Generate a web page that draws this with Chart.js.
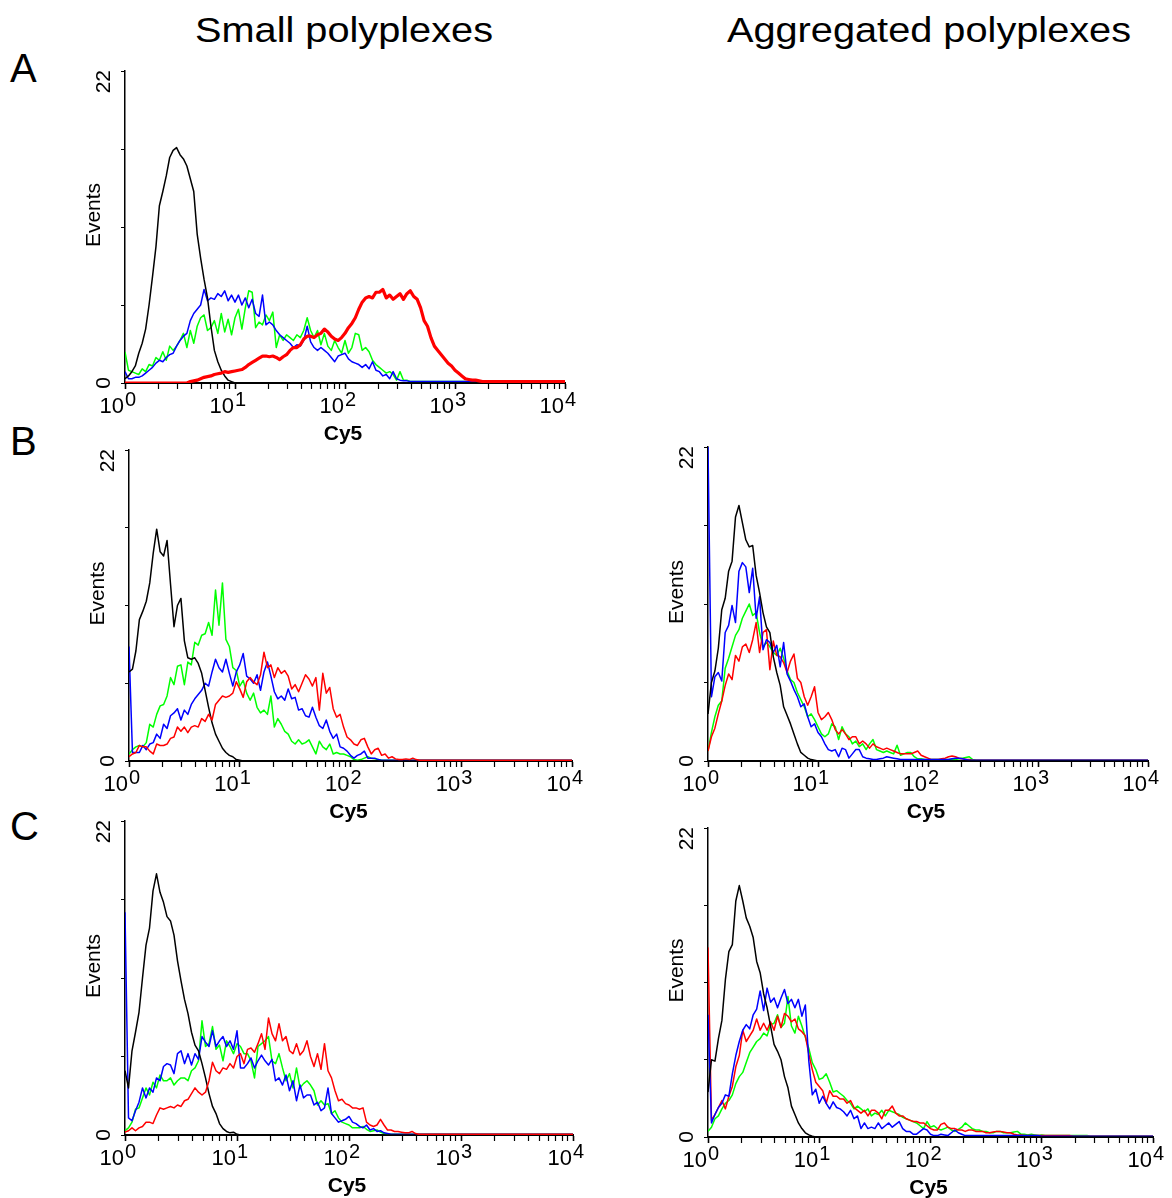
<!DOCTYPE html>
<html>
<head>
<meta charset="utf-8">
<script src="https://cdn.jsdelivr.net/npm/chart.js@4.4.1/dist/chart.umd.min.js"></script>
<style>
  body { margin: 0; background: #fff; width: 1172px; height: 1198px; position: relative; overflow: hidden;
         font-family: "Liberation Sans", Arial, sans-serif; }
  .lbl { position: absolute; color: #000; white-space: nowrap; line-height: 1; }
  .head { font-size: 35px; transform: translateX(-50%) scaleX(1.135); }
  .letter { font-size: 40px; }
  canvas { position: absolute; }
</style>
</head>
<body>
<div class="lbl head" style="left:344px; top:12px">Small polyplexes</div>
<div class="lbl head" style="left:929px; top:12px">Aggregated polyplexes</div>
<div class="lbl letter" style="left:10px; top:48px">A</div>
<div class="lbl letter" style="left:10px; top:421px">B</div>
<div class="lbl letter" style="left:10px; top:806px">C</div>

<script>
// histogram counts, one value per channel (32 channels per decade, starting at 10^0)
// the last value of each series runs flat to 10^4

// A - small polyplexes
const blackA = [0.3,0.5,0.8,1.2,2.1,2.8,3.8,5.5,7.5,9.6,12.5,13.5,14.6,15.9,16.4,16.6,16.1,15.8,15.3,14.4,13.5,10.5,8.8,7.3,6.0,4.0,2.3,1.5,0.9,0.5,0.2,0.1,0];
const greenA = [2.2,0.9,0.8,0.7,0.6,1.0,0.8,1.3,1.2,1.8,1.6,2.2,1.6,2.6,2.3,2.6,3.0,3.5,2.5,3.7,2.8,4.0,4.6,4.8,3.7,3.9,4.4,3.5,4.9,3.6,4.5,3.4,4.6,5.2,3.8,5.3,6.5,6.4,3.9,4.3,4.1,4.8,4.4,5.0,2.5,3.4,3.0,3.4,3.2,3.0,3.4,3.2,3.7,4.6,3.7,3.2,3.7,2.7,3.5,2.6,2.3,3.0,2.5,2.1,3.0,2.1,2.5,3.5,3.4,2.3,2.5,2.2,1.6,1.3,1.1,0.9,0.7,0.8,0.6,0.2,0.8,0.2,0.2,0.1];
const blueA = [0.8,0.3,0.3,0.4,0.4,0.5,0.7,0.9,1.1,1.4,1.6,1.5,1.8,2.0,2.1,2.6,3.0,3.3,3.5,4.4,4.9,5.2,5.5,6.6,5.8,6.0,5.9,6.3,6.1,6.5,5.8,6.2,5.7,6.2,5.5,6.0,5.3,5.9,4.9,4.7,6.2,4.1,4.3,4.1,3.7,3.4,3.2,3.0,2.8,2.5,2.7,2.6,3.0,4.0,2.9,2.5,2.3,2.5,2.3,2.1,1.8,1.5,1.9,2.0,2.1,1.7,1.5,1.4,1.3,1.1,1.3,1.0,1.5,0.9,0.8,0.5,0.6,0.3,0.8,0.3,0.2,0.15,0.15,0.1];
const redA = [0,0,0,0,0,0,0,0,0,0,0,0,0,0,0,0,0,0,0,0.1,0.15,0.2,0.3,0.4,0.45,0.5,0.6,0.65,0.7,0.8,0.75,0.8,0.85,0.9,0.95,1.1,1.3,1.45,1.6,1.75,1.9,1.9,1.85,1.9,1.8,1.65,1.85,2.0,2.3,2.5,2.5,2.7,3.1,3.3,3.3,3.2,3.4,3.5,3.8,3.6,3.3,3.1,3.0,3.2,3.5,3.9,4.2,4.6,5.2,5.7,6.0,6.1,6.0,6.4,6.4,6.6,6.0,6.2,5.9,6.1,6.3,5.9,6.3,6.5,6.1,5.9,5.3,4.4,4.0,3.2,2.6,2.3,2.0,1.7,1.4,1.2,0.9,0.7,0.5,0.3,0.25,0.2,0.2,0.15,0.1];

// B - small polyplexes
const blackBL = [6.3,6.5,7.8,10.0,10.6,11.3,12.6,14.7,16.4,14.8,14.5,15.6,12.5,9.5,11.0,11.5,8.5,7.3,7.2,7.3,6.9,6.2,5.0,3.8,2.7,1.9,1.4,0.9,0.6,0.4,0.3,0.1,0.05,0];
const greenBL = [0.5,0.8,1.0,1.1,1.0,1.3,2.6,2.4,3.3,3.9,4.0,4.6,5.9,5.4,6.7,6.8,5.4,7.0,6.8,8.4,8.2,8.9,9.0,9.8,8.9,12.1,9.6,12.6,8.6,8.1,6.6,6.4,5.3,5.7,4.8,4.3,4.8,3.8,3.4,3.6,3.3,4.6,2.4,3.0,2.6,2.1,1.9,1.4,1.2,1.5,1.2,1.3,1.5,1.0,0.5,1.4,1.0,0.8,1.2,0.5,0.6,0.5,0.5,0.4,0.3,0.1,0.05,0.1,0.2,0.3,0.2,0.15,0.1,0.05];
const blueBL = [8.1,0.6,0.6,0.6,1.1,0.8,1.2,1.3,1.9,1.6,2.6,2.3,3.2,3.4,3.7,2.9,3.6,3.3,4.0,4.4,4.7,5.0,5.5,5.3,6.3,7.2,6.6,6.3,7.2,6.2,5.3,6.3,6.8,7.6,6.0,5.8,5.5,6.1,5.0,6.3,7.0,6.0,4.9,4.4,4.6,4.3,5.1,4.4,4.5,3.6,3.7,3.2,3.1,3.8,3.1,2.5,2.3,2.9,2.1,1.6,1.9,1.0,0.9,0.7,0.4,0.2,0.4,0.5,0.7,0.2,0.2,0.2,0.1,0.05];
const redBL = [0.3,0.5,0.6,1.1,1.0,1.0,0.7,0.5,1.2,1.1,1.1,1.2,1.6,1.7,2.4,2.1,2.4,2.0,2.4,2.5,2.4,3.0,2.8,3.3,2.9,4.0,4.3,4.6,4.5,4.6,4.8,5.6,5.1,4.5,5.6,5.9,5.6,5.4,6.1,7.7,6.6,6.8,5.9,6.6,6.2,6.4,6.0,5.1,5.4,4.9,5.5,6.1,5.8,5.3,5.9,3.6,6.2,4.8,5.2,3.7,3.1,3.3,2.4,1.7,1.5,1.2,1.1,1.5,1.6,1.0,0.5,0.8,0.9,0.4,0.5,0.2,0.3,0.15,0.1,0.1,0.15,0.1,0.2,0.1,0.05];

// B - aggregated polyplexes
const blackBR = [3.3,5.5,6.3,7.9,10.6,11.4,13.3,14.0,17.1,17.9,16.7,15.5,15.0,15.1,13.0,11.8,10.4,9.4,9.0,7.3,6.2,5.3,3.8,3.2,2.6,1.9,1.2,0.6,0.4,0.2,0.1,0.05,0];
const greenBR = [0.7,2.0,3.1,3.9,4.2,6.5,7.2,8.0,8.8,9.2,10.0,10.5,11.0,10.2,10.4,9.0,8.0,8.3,8.0,7.6,7.4,7.9,7.2,6.3,5.7,5.5,4.8,4.3,3.8,3.1,3.3,2.9,2.4,1.9,1.7,1.9,2.6,2.4,1.5,2.4,1.9,1.7,1.2,1.4,1.0,1.2,0.8,1.2,1.5,0.8,0.7,0.6,0.7,0.6,0.5,1.1,0.4,0.5,0.6,0.6,0.3,0.15,0.15,0.1,0.1,0.1,0.1,0.1,0.1,0.1,0.1,0.1,0.1,0.15,0.2,0.25,0.3,0.1,0.05];
const blueBR = [22,4.5,5.9,6.2,5.6,9.0,9.5,10.9,9.7,13.3,13.9,13.6,11.8,13.5,10.0,11.5,7.8,8.5,8.3,7.6,8.1,6.6,8.3,6.1,5.6,5.0,4.5,3.8,4.0,3.1,2.4,2.6,2.0,1.7,1.2,0.8,0.7,0.8,0.3,0.9,0.8,0.2,0.5,0.8,0.8,0.3,0.2,0.15,0.1,0.1,0.15,0.2,0.3,0.25,0.2,0.15,0.1,0.1,0.1,0.1,0.1,0.1,0.1,0.1,0.1,0.1,0.1,0.1,0.1,0.1,0.1,0.15,0.2,0.2,0.15,0.1,0.05];
const redBR = [0.7,1.7,2.3,3.3,4.2,5.3,6.1,5.7,7.4,7.0,8.0,8.2,7.6,8.5,9.7,7.6,9.0,9.2,6.4,8.4,7.4,7.3,6.9,6.2,7.0,7.5,5.8,5.5,4.5,3.9,4.5,5.2,3.4,2.9,3.1,3.4,2.9,2.2,1.9,2.2,1.9,1.5,1.7,1.7,1.2,1.4,1.2,0.9,1.2,1.0,0.9,0.8,0.9,0.8,0.7,0.6,0.5,0.5,0.5,0.5,0.6,0.7,0.4,0.3,0.2,0.1,0.1,0.1,0.15,0.2,0.3,0.35,0.3,0.2,0.15,0.1,0.1,0.05];

// C - small polyplexes
const blackCL = [4.5,3.3,5.9,7.2,8.6,11.0,13.3,14.5,17.1,18.3,17.0,16.3,15.3,15.0,14.0,12.2,10.8,9.5,8.5,7.2,6.3,5.9,5.0,4.0,2.9,2.0,1.5,0.8,0.45,0.25,0.15,0.2,0.05,0];
const greenCL = [0.3,0.5,0.9,1.8,1.9,2.6,3.3,2.8,3.7,3.3,4.2,3.8,3.8,4.0,3.5,3.8,4.0,4.0,3.8,4.5,4.7,5.2,8.0,6.2,6.4,7.6,6.0,6.3,5.2,6.6,6.2,5.7,6.4,6.2,5.7,5.7,5.2,4.0,6.2,6.4,6.6,6.9,5.2,5.0,5.7,4.7,3.8,4.3,3.3,4.7,3.3,3.6,3.8,3.5,3.1,2.1,2.4,2.1,2.2,1.5,1.7,1.2,0.9,0.8,0.7,0.5,0.5,0.5,0.6,0.4,0.25,0.3,0.35,0.2,0.1,0.05];
const blueCL = [15.6,1.2,1.0,1.7,2.3,3.3,2.6,3.3,3.0,4.0,3.8,4.8,5.0,4.9,4.3,5.7,5.9,5.0,5.7,4.9,5.7,5.3,6.9,6.5,6.2,7.3,6.2,6.6,6.9,6.2,6.6,6.0,7.3,4.7,4.7,5.0,5.4,4.7,5.2,5.6,5.2,4.9,5.3,3.8,4.0,3.5,4.2,3.1,3.8,2.4,3.5,2.6,2.8,2.8,2.1,2.3,1.7,1.9,3.3,1.5,1.2,0.9,1.0,1.1,1.3,0.9,0.8,0.6,0.5,0.7,0.35,0.45,0.25,0.3,0.15,0.1,0.05];
const redCL = [0.2,0.3,0.5,0.3,0.5,0.6,0.9,0.9,0.8,1.4,1.9,1.8,1.9,2.0,1.9,2.1,2.0,2.4,2.5,2.9,3.3,3.0,2.8,3.0,3.8,5.1,4.5,4.3,4.7,4.6,5.0,4.7,5.5,5.7,5.0,6.0,6.1,5.8,6.4,7.1,6.0,8.2,7.1,6.6,7.8,6.6,6.9,5.9,5.7,6.4,5.6,5.9,6.6,5.5,4.8,5.7,4.6,6.4,4.5,4.0,3.1,2.4,2.5,2.2,2.1,1.9,1.9,1.8,1.9,0.9,0.7,0.6,0.7,1.1,0.7,0.35,0.35,0.25,0.25,0.2,0.15,0.15,0.25,0.1,0.05];

// C - aggregated polyplexes
const blackCR = [3.2,5.5,5.4,7.0,8.3,11.2,13.2,13.7,16.8,17.9,16.8,15.6,15.0,14.2,12.5,11.7,10.2,9.2,7.9,6.6,6.1,5.5,4.3,3.5,2.2,1.6,1.0,0.6,0.3,0.15,0.05,0];
const greenCR = [0.4,0.7,1.3,1.5,2.0,2.4,2.6,3.0,3.8,4.3,4.6,5.3,6.0,6.4,6.8,7.0,7.4,7.2,8.0,8.1,8.7,7.8,8.1,10.0,7.9,7.4,8.6,7.9,7.1,6.3,5.3,4.8,4.1,4.2,4.5,3.9,3.2,3.3,3.1,2.9,2.6,2.4,2.0,2.2,2.0,1.8,2.0,1.5,1.7,1.6,1.9,1.5,1.9,1.8,1.7,1.6,1.4,1.3,1.2,1.1,1.0,0.8,0.6,1.1,0.7,0.8,0.6,0.5,0.6,0.7,0.5,0.4,0.55,0.7,1.0,0.8,0.6,0.5,0.5,0.4,0.4,0.3,0.3,0.4,0.4,0.3,0.3,0.3,0.35,0.4,0.2,0.2,0.15,0.2,0.15,0.1,0.15,0.1,0.1,0.1,0.1,0.1,0.1,0.1,0.1,0.1,0.1,0.1,0.1,0.1,0.05];
const blueCR = [8.7,1.0,1.6,2.1,2.4,3.0,2.9,4.5,5.8,6.8,7.6,8.0,7.7,8.7,9.1,10.4,9.0,10.6,9.6,9.9,9.2,9.9,10.5,9.5,9.8,9.2,9.8,8.6,9.4,5.4,3.0,3.4,2.4,2.9,2.4,2.0,2.5,2.1,2.0,1.8,1.5,1.9,1.3,1.5,0.6,1.0,0.6,0.7,0.6,1.0,0.6,0.8,1.0,0.7,0.9,1.1,0.6,0.4,0.4,0.2,0.2,0.4,0.6,0.5,0.2,0.1,0.1,0.2,0.15,0.1,0.3,0.5,0.3,0.2,0.1,0.1,0.1,0.1,0.1,0.1,0.1,0.1,0.1,0.1,0.1,0.1,0.1,0.1,0.1,0.1,0.1,0.1,0.1,0.1,0.1,0.1,0.05];
const redCR = [13.5,1.2,1.6,2.1,2.6,2.0,2.9,3.6,5.0,5.8,7.6,6.8,7.2,7.6,8.4,7.6,8.1,7.6,8.2,7.6,8.6,7.8,8.8,8.6,8.2,8.4,7.7,7.5,7.2,5.9,4.8,3.9,3.6,3.3,2.4,3.3,2.9,2.9,2.7,2.7,2.4,2.6,2.1,1.9,1.7,1.9,1.5,1.9,1.9,1.7,1.3,1.9,1.9,2.2,1.7,1.5,1.5,1.3,1.2,1.1,1.1,1.0,1.0,0.8,0.6,0.5,0.5,0.9,1.0,0.7,0.6,0.6,0.5,0.5,0.4,0.5,0.5,0.4,0.4,0.4,0.3,0.3,0.35,0.4,0.4,0.35,0.3,0.3,0.2,0.15,0.15,0.1,0.1,0.1,0.1,0.1,0.1,0.1,0.1,0.1,0.1,0.1,0.1,0.1,0.1,0.05];

// axes
const chansPerDecade = 32;
const decadeExps = ['0', '1', '2', '3', '4'];
const yTickValues = [0, 5.5, 11, 16.5, 22];
const yLabelValues = [0, 22];
const xTitle = 'Cy5';
const yTitle = 'Events';

// plot area of each panel on the page: left, top, right, bottom
const panels = [
  { box: [125, 71, 565, 383],   series: [redA, blackA, blueA, greenA], redWidth: 3.2 },
  { box: [129, 450, 572, 761],  series: [redBL, blackBL, blueBL, greenBL] },
  { box: [125, 821, 573, 1135], series: [redCL, blackCL, blueCL, greenCL] },
  { box: [708, 447, 1148, 761], series: [blackBR, blueBR, redBR, greenBR], order: 'kbrg' },
  { box: [708, 828, 1153, 1137], series: [blackCR, blueCR, redCR, greenCR], order: 'kbrg' }
];

const FONT = '"Liberation Sans", Arial, sans-serif';

// minor ticks at 2..9 of every decade
const xTickValues = [];
for (let d = 0; d < 4; d++) {
  for (let m = 1; m < 10; m++) xTickValues.push(chansPerDecade * (d + Math.log10(m)));
}
xTickValues.push(4 * chansPerDecade);

const axisText = {
  id: 'axisText',
  afterDraw(chart) {
    const { ctx, chartArea: a, scales: { x, y } } = chart;
    ctx.save();
    ctx.fillStyle = '#000';
    ctx.textBaseline = 'alphabetic';
    decadeExps.forEach((e, k) => {
      const px = x.getPixelForValue(k * chansPerDecade);
      ctx.font = '22px ' + FONT;
      ctx.textAlign = 'right';
      ctx.fillText('10', px - 1, a.bottom + 30);
      ctx.font = '20px ' + FONT;
      ctx.textAlign = 'left';
      ctx.fillText(e, px, a.bottom + 23);
    });
    ctx.font = 'bold 21px ' + FONT;
    ctx.textAlign = 'center';
    ctx.textBaseline = 'middle';
    ctx.fillText(xTitle, (a.left + a.right) / 2 - 2, a.bottom + 51);

    // rotated y labels
    ctx.font = '21px ' + FONT;
    yLabelValues.forEach(v => {
      const py = y.getPixelForValue(v);
      ctx.save();
      ctx.translate(a.left - 21, v === 0 ? py : a.top - 1);
      ctx.rotate(-Math.PI / 2);
      ctx.textAlign = v === 0 ? 'center' : 'right';
      ctx.fillText(String(v), 0, 0);
      ctx.restore();
    });
    ctx.save();
    ctx.translate(a.left - 31, (a.top + a.bottom) / 2 - 12);
    ctx.rotate(-Math.PI / 2);
    ctx.textAlign = 'center';
    ctx.fillText(yTitle, 0, 0);
    ctx.restore();
    ctx.restore();
  }
};

const colours = { red: '#ff0000', black: '#000000', blue: '#0000ff', green: '#00ff00' };

function toPoints(vals) {
  const pts = vals.map((v, i) => ({ x: i, y: v }));
  pts.push({ x: 4 * chansPerDecade, y: vals[vals.length - 1] });
  return pts;
}

panels.forEach(p => {
  const [L, T, R, B] = p.box;
  const padL = 70, padT = 14, padR = 30, padB = 72;
  const cv = document.createElement('canvas');
  cv.width = R - L + padL + padR;
  cv.height = B - T + padT + padB;
  cv.style.left = (L - padL) + 'px';
  cv.style.top = (T - padT) + 'px';
  document.body.appendChild(cv);

  // first dataset is drawn on top
  const names = p.order === 'kbrg' ? ['black', 'blue', 'red', 'green'] : ['red', 'black', 'blue', 'green'];
  const datasets = p.series.map((s, i) => ({
    data: toPoints(s),
    borderColor: colours[names[i]],
    borderWidth: names[i] === 'red' && p.redWidth ? p.redWidth : 1.5,
    borderJoinStyle: 'round',
    pointRadius: 0,
    tension: 0,
    fill: false
  }));

  new Chart(cv.getContext('2d'), {
    type: 'line',
    data: { datasets },
    options: {
      responsive: false,
      animation: false,
      devicePixelRatio: 1,
      layout: { padding: { left: 0, top: padT, right: padR, bottom: 0 } },
      plugins: { legend: { display: false }, tooltip: { enabled: false } },
      scales: {
        x: {
          type: 'linear', min: 0, max: 4 * chansPerDecade,
          afterBuildTicks: s => { s.ticks = xTickValues.map(v => ({ value: v })); },
          afterFit: s => { s.height = padB; },
          ticks: { display: false },
          grid: { drawOnChartArea: false, tickLength: 6, color: '#000',
                  tickWidth: c => (c.tick && Math.abs(c.tick.value % chansPerDecade) < 0.01 ? 1.6 : 1.2) },
          border: { color: '#000', width: 2 }
        },
        y: {
          type: 'linear', min: 0, max: 22,
          afterBuildTicks: s => { s.ticks = yTickValues.map(v => ({ value: v })); },
          afterFit: s => { s.width = padL; },
          ticks: { display: false },
          grid: { drawOnChartArea: false, tickLength: 4, color: '#000' },
          border: { color: '#000', width: 1.5 }
        }
      }
    },
    plugins: [axisText]
  });
});
</script>
</body>
</html>
